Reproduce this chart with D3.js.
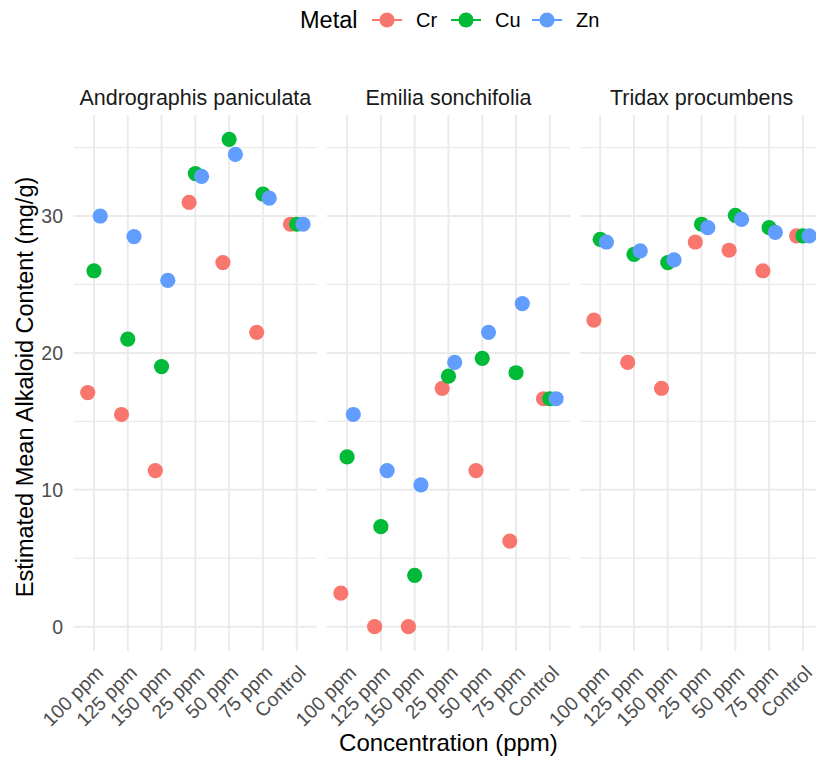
<!DOCTYPE html>
<html>
<head>
<meta charset="utf-8">
<script src="https://cdn.jsdelivr.net/npm/d3@7"></script>
<style>
  html, body { margin: 0; padding: 0; background: #fff; }
  svg { display: block; font-family: "Liberation Sans", Arial, Helvetica, sans-serif; }
</style>
</head>
<body>
<svg id="chart" width="816" height="760"></svg>
<script>
// ---------------- data ----------------
const categories = ["100 ppm", "125 ppm", "150 ppm", "25 ppm", "50 ppm", "75 ppm", "Control"];
const species = ["Andrographis paniculata", "Emilia sonchifolia", "Tridax procumbens"];
const metals = ["Cr", "Cu", "Zn"];
const metalColors = ["#F8766D", "#00BA38", "#619CFF"];
const yTicks = [0, 10, 20, 30];
const yMinorTicks = [5, 15, 25, 35];

const andrographisCr = [17.1, 15.5, 11.4, 31.0, 26.6, 21.5, 29.4];
const andrographisCu = [26.0, 21.0, 19.0, 33.1, 35.6, 31.6, 29.4];
const andrographisZn = [30.0, 28.5, 25.3, 32.9, 34.5, 31.3, 29.4];

const emiliaCr = [2.45, 0.0, 0.0, 17.4, 11.4, 6.25, 16.65];
const emiliaCu = [12.4, 7.3, 3.75, 18.3, 19.6, 18.55, 16.65];
const emiliaZn = [15.5, 11.4, 10.35, 19.3, 21.5, 23.6, 16.65];

const tridaxCr = [22.4, 19.3, 17.4, 28.1, 27.5, 26.0, 28.55];
const tridaxCu = [28.3, 27.2, 26.6, 29.4, 30.05, 29.15, 28.55];
const tridaxZn = [28.1, 27.45, 26.8, 29.15, 29.75, 28.8, 28.55];

const seriesBySpecies = [
  [andrographisCr, andrographisCu, andrographisZn],
  [emiliaCr, emiliaCu, emiliaZn],
  [tridaxCr, tridaxCu, tridaxZn]
];

// ---------------- layout ----------------
const svg = d3.select("#chart");
const panelW = 243.3, panelGap = 9.8;
const panelLeft0 = 73.7;
const panelTop = 115, panelBottom = 651;

const allVals = seriesBySpecies.flat(2);
const yMin = d3.min(allVals), yMax = d3.max(allVals);
const yPad = (yMax - yMin) * 0.05;
const y = d3.scaleLinear().domain([yMin - yPad, yMax + yPad]).range([panelBottom, panelTop]);

const color = d3.scaleOrdinal().domain(metals).range(metalColors);
const gridColor = "#EBEBEB";
const textDark = "#1A1A1A";
const textGrey = "#4D4D4D";

species.forEach((sp, si) => {
  const left = panelLeft0 + si * (panelW + panelGap);
  const x = d3.scalePoint().domain(categories).range([left, left + panelW]).padding(0.6);
  const step = x.step();
  const dodge = d3.scalePoint().domain(metals).range([-0.185 * step, 0.185 * step]);

  const g = svg.append("g");

  // minor horizontal grid
  g.selectAll("line.ymin").data(yMinorTicks).enter().append("line")
    .attr("x1", left).attr("x2", left + panelW)
    .attr("y1", d => y(d)).attr("y2", d => y(d))
    .attr("stroke", gridColor).attr("stroke-width", 1.3);
  // major horizontal grid
  g.selectAll("line.ymaj").data(yTicks).enter().append("line")
    .attr("x1", left).attr("x2", left + panelW)
    .attr("y1", d => y(d)).attr("y2", d => y(d))
    .attr("stroke", gridColor).attr("stroke-width", 2);
  // vertical grid
  g.selectAll("line.xg").data(categories).enter().append("line")
    .attr("x1", d => x(d)).attr("x2", d => x(d))
    .attr("y1", panelTop).attr("y2", panelBottom)
    .attr("stroke", gridColor).attr("stroke-width", 2);

  // strip title
  g.append("text")
    .attr("x", left + panelW / 2).attr("y", 105)
    .attr("text-anchor", "middle")
    .attr("font-size", 21.5).attr("fill", textDark)
    .text(sp);

  // x tick labels (rotated 45)
  g.selectAll("text.xt").data(categories).enter().append("text")
    .attr("transform", d => `translate(${x(d) + 0.5},${664}) rotate(-45)`)
    .attr("text-anchor", "end")
    .attr("dy", "0.72em")
    .attr("font-size", 19.5).attr("fill", textGrey)
    .text(d => d);

  // points
  seriesBySpecies[si].forEach((vals, mi) => {
    const m = metals[mi];
    g.selectAll("circle.m" + mi).data(vals.map((v, ci) => ({ cat: categories[ci], v })))
      .enter().append("circle")
      .attr("cx", d => x(d.cat) + dodge(m))
      .attr("cy", d => y(d.v))
      .attr("r", 7.6)
      .attr("fill", color(m));
  });
});

// y tick labels
svg.selectAll("text.yt").data(yTicks).enter().append("text")
  .attr("x", 63).attr("y", d => y(d))
  .attr("dy", "0.36em")
  .attr("text-anchor", "end")
  .attr("font-size", 19.5).attr("fill", textGrey)
  .text(d => d);

// axis titles
svg.append("text")
  .attr("transform", `translate(33,${(panelTop + panelBottom) / 2 + 4}) rotate(-90)`)
  .attr("text-anchor", "middle")
  .attr("font-size", 23.5).attr("fill", "#000")
  .text("Estimated Mean Alkaloid Content (mg/g)");

svg.append("text")
  .attr("x", (panelLeft0 + panelLeft0 + 3 * panelW + 2 * panelGap) / 2)
  .attr("y", 751)
  .attr("text-anchor", "middle")
  .attr("font-size", 24).attr("fill", "#000")
  .text("Concentration (ppm)");

// legend
const legend = svg.append("g");
legend.append("text")
  .attr("x", 300).attr("y", 28)
  .attr("font-size", 23.5).attr("fill", "#000")
  .text("Metal");
const keyX = [387, 466, 547];
metals.forEach((m, i) => {
  const cx = keyX[i];
  legend.append("line")
    .attr("x1", cx - 15).attr("x2", cx + 15)
    .attr("y1", 20).attr("y2", 20)
    .attr("stroke", color(m)).attr("stroke-width", 2);
  legend.append("circle")
    .attr("cx", cx).attr("cy", 20).attr("r", 7.6)
    .attr("fill", color(m));
  legend.append("text")
    .attr("x", cx + 29).attr("y", 27)
    .attr("font-size", 20).attr("fill", "#000")
    .text(m);
});
</script>
</body>
</html>
